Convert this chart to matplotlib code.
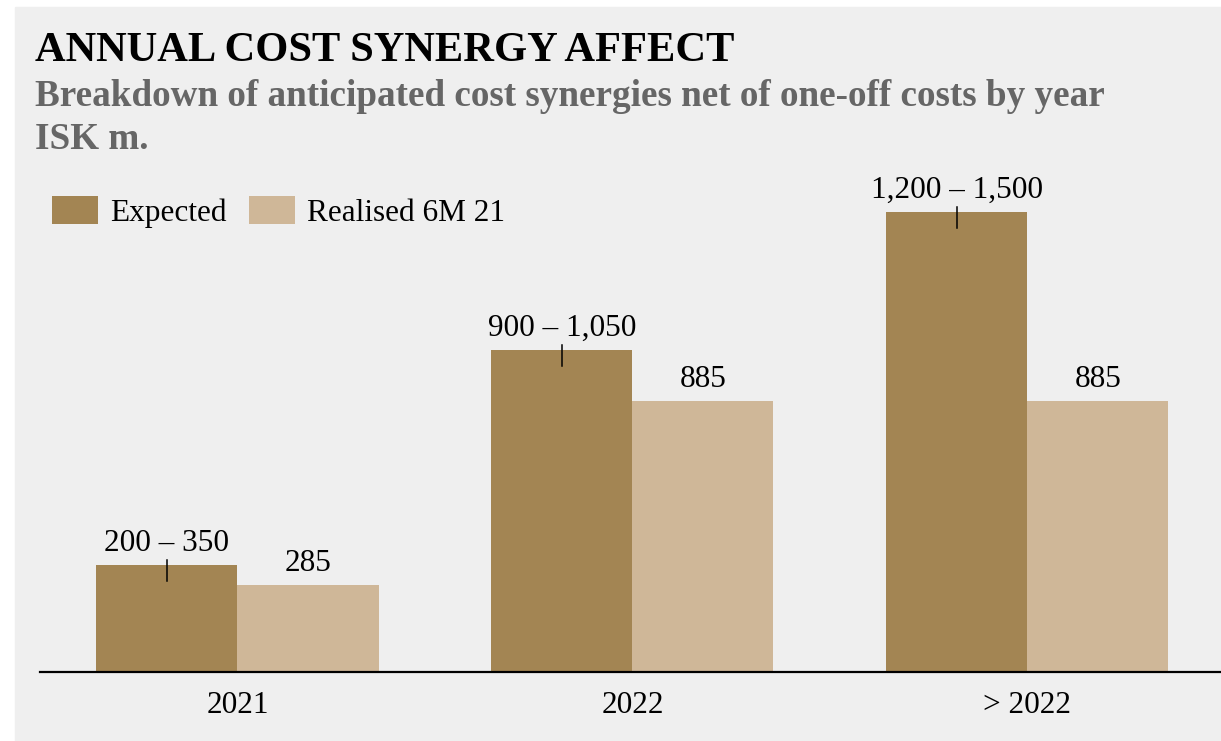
import matplotlib.pyplot as plt
import numpy as np

# DATA
years = ["2021", "2022", "> 2022"]
expected_low = [200, 900, 1200]
expected_high = [350, 1050, 1500]
realised = [285, 885, 885]
legend_labels = ["Expected", "Realised 6M 21"]

# STYLE
dark = "#a38553"
light = "#cfb798"
bg = "#efefef"
plt.rcParams["font.family"] = ["Liberation Serif", "DejaVu Serif"]

W, H = 1221, 741
fig = plt.figure(figsize=(W / 100, H / 100), dpi=100)
fig.patch.set_facecolor("white")
# grey panel (white strip top / left)
fig.patches.append(plt.Rectangle((15 / W, 0), 1 - 15 / W, 1 - 7 / H,
                                 transform=fig.transFigure, color=bg, zorder=-1))

ax = fig.add_axes([40 / W, 1 - 672 / H, 1 - 40 / W, (672 - 169) / H])
ax.patch.set_alpha(0)

x = np.arange(len(years))
w = 0.357
b1 = ax.bar(x - w / 2, expected_high, w, color=dark, label=legend_labels[0])
b2 = ax.bar(x + w / 2, realised, w, color=light, label=legend_labels[1])

for i in range(len(years)):
    # small marker line across top of expected bar
    ax.plot([x[i] - w / 2] * 2, [expected_high[i] + 16, expected_high[i] - 52],
            color="black", lw=1.1)
    ax.annotate(f"{expected_low[i]:,} \u2013 {expected_high[i]:,}",
                xy=(x[i] - w / 2, expected_high[i]), xytext=(0, 5),
                textcoords="offset points", ha="center", va="bottom", fontsize=22.5)
    ax.annotate(f"{realised[i]:,}", xy=(x[i] + w / 2, realised[i]), xytext=(0, 5),
                textcoords="offset points", ha="center", va="bottom", fontsize=22.5)

ax.set_xlim(-0.5, 2.49)
ax.set_ylim(0, 1640)
ax.set_xticks(x)
ax.set_xticklabels(years, fontsize=22.5)
ax.tick_params(axis="x", length=0, pad=14)
ax.set_yticks([])
for s in ["top", "right", "left"]:
    ax.spines[s].set_visible(False)
ax.spines["bottom"].set_linewidth(1.6)

fig.text(35 / W, 1 - 61 / H, "ANNUAL COST SYNERGY AFFECT", fontsize=30.6,
         fontweight="bold", color="black")
fig.text(35 / W, 1 - 106 / H,
         "Breakdown of anticipated cost synergies net of one-off costs by year",
         fontsize=26.7, fontweight="bold", color="#666666")
fig.text(35 / W, 1 - 149 / H, "ISK m.", fontsize=26.7, fontweight="bold", color="#666666")

fig.legend(handles=[b1, b2], labels=legend_labels, loc="center left",
           bbox_to_anchor=(52 / W, 1 - 212 / H), ncol=2, frameon=False,
           fontsize=22.5, handlelength=1.47, handleheight=1.0,
           handletextpad=0.38, columnspacing=0.74, borderpad=0, borderaxespad=0)

plt.savefig("out.png", dpi=100, facecolor=fig.get_facecolor())
